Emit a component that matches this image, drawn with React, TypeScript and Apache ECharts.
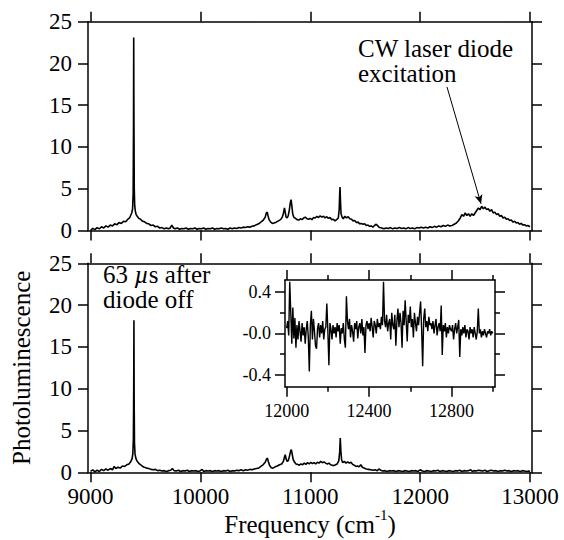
import React, { useEffect, useRef } from 'react';
import * as echarts from 'echarts';

// ---------- data ----------
const topSpectrum: [number, number][] = [
  [9000, 0.0], [9020, 0.25], [9040, 0.1], [9060, 0.35], [9080, 0.2], [9100, 0.45], [9120, 0.3], [9140, 0.55],
  [9160, 0.4], [9180, 0.65], [9200, 0.55], [9220, 0.8], [9240, 0.7], [9260, 0.95], [9280, 0.85], [9300, 1.1],
  [9320, 1.05], [9340, 1.35], [9355, 1.5], [9365, 1.8], [9375, 2.1], [9383, 2.6], [9388, 4.5], [9391, 12],
  [9393, 23.1], [9395, 14], [9398, 5], [9402, 3.0], [9408, 2.3], [9415, 1.9], [9425, 1.7], [9440, 1.45],
  [9455, 1.35], [9470, 1.15], [9490, 1.05], [9510, 0.85], [9530, 0.8], [9550, 0.6], [9570, 0.65], [9590, 0.45],
  [9610, 0.5], [9630, 0.3], [9650, 0.35], [9670, 0.2], [9690, 0.3], [9710, 0.2], [9725, 0.3], [9740, 0.65],
  [9755, 0.3], [9770, 0.2], [9790, 0.3], [9810, 0.15], [9830, 0.25], [9850, 0.2], [9870, 0.3], [9890, 0.15],
  [9910, 0.25], [9930, 0.2], [9950, 0.3], [9970, 0.15], [9990, 0.25], [10010, 0.2], [10030, 0.3], [10050, 0.15],
  [10070, 0.25], [10090, 0.2], [10110, 0.3], [10130, 0.15], [10150, 0.25], [10170, 0.2], [10190, 0.3], [10210, 0.2],
  [10230, 0.25], [10250, 0.15], [10270, 0.3], [10290, 0.2], [10310, 0.3], [10330, 0.25], [10350, 0.35], [10370, 0.3],
  [10390, 0.4], [10410, 0.35], [10430, 0.45], [10450, 0.4], [10470, 0.5], [10490, 0.55], [10510, 0.7], [10530, 0.8],
  [10550, 1.0], [10570, 1.2], [10590, 1.6], [10600, 2.1], [10608, 2.2], [10615, 1.8], [10625, 1.3], [10640, 1.0],
  [10655, 0.85], [10670, 0.9], [10690, 1.0], [10710, 1.15], [10730, 1.3], [10745, 1.6], [10755, 2.0], [10765, 2.7],
  [10772, 2.2], [10780, 1.6], [10790, 1.5], [10800, 1.8], [10810, 2.5], [10818, 3.3], [10825, 3.7], [10832, 3.0],
  [10840, 2.0], [10850, 1.6], [10865, 1.45], [10880, 1.3], [10895, 1.25], [10910, 1.4], [10925, 1.3], [10940, 1.5],
  [10955, 1.6], [10970, 1.4], [10985, 1.35], [11000, 1.45], [11015, 1.3], [11030, 1.55], [11045, 1.5], [11060, 1.7],
  [11075, 1.55], [11090, 1.75], [11105, 1.6], [11120, 1.7], [11135, 1.5], [11150, 1.65], [11165, 1.45], [11180, 1.55],
  [11195, 1.3], [11210, 1.35], [11225, 1.15], [11240, 1.3], [11255, 1.5], [11263, 2.5], [11268, 4.5], [11271, 5.2],
  [11275, 3.5], [11280, 2.0], [11290, 1.6], [11300, 1.4], [11315, 1.7], [11330, 1.5], [11345, 1.65], [11360, 1.4],
  [11375, 1.35], [11390, 1.15], [11405, 1.2], [11420, 0.95], [11435, 1.0], [11450, 0.8], [11465, 0.85], [11480, 0.75],
  [11495, 0.8], [11510, 0.6], [11525, 0.65], [11540, 0.5], [11555, 0.55], [11570, 0.4], [11585, 0.6], [11600, 0.75],
  [11615, 0.55], [11630, 0.35], [11650, 0.3], [11670, 0.2], [11690, 0.3], [11710, 0.25], [11730, 0.35], [11750, 0.2],
  [11770, 0.3], [11790, 0.25], [11810, 0.35], [11830, 0.25], [11850, 0.3], [11870, 0.2], [11890, 0.35], [11910, 0.25],
  [11930, 0.3], [11950, 0.2], [11970, 0.35], [11990, 0.3], [12010, 0.4], [12030, 0.3], [12050, 0.4], [12070, 0.3],
  [12090, 0.45], [12110, 0.35], [12130, 0.5], [12150, 0.4], [12170, 0.55], [12190, 0.45], [12210, 0.6], [12230, 0.5],
  [12250, 0.65], [12270, 0.55], [12290, 0.6], [12310, 0.75], [12330, 0.9], [12350, 1.2], [12365, 1.5], [12380, 1.9],
  [12395, 1.7], [12410, 2.1], [12425, 1.8], [12440, 2.0], [12455, 1.7], [12470, 2.0], [12485, 1.8], [12500, 2.1],
  [12515, 2.4], [12530, 2.7], [12545, 2.5], [12560, 2.9], [12575, 2.6], [12590, 2.8], [12605, 2.5], [12620, 2.6],
  [12635, 2.3], [12650, 2.5], [12665, 2.1], [12680, 2.2], [12695, 1.9], [12710, 2.0], [12725, 1.7], [12740, 1.8],
  [12755, 1.5], [12770, 1.6], [12785, 1.35], [12800, 1.4], [12815, 1.2], [12830, 1.25], [12845, 1.0], [12860, 1.1],
  [12875, 0.9], [12890, 0.95], [12905, 0.75], [12920, 0.85], [12935, 0.65], [12950, 0.7], [12965, 0.55], [12980, 0.6],
  [13000, 0.45],
];

const bottomSpectrum: [number, number][] = [
  [9000, 0.1], [9020, 0.3], [9040, 0.05], [9060, 0.25], [9080, 0.1], [9100, 0.35], [9120, 0.2], [9140, 0.4],
  [9160, 0.25], [9180, 0.45], [9200, 0.3], [9215, 0.7], [9230, 0.45], [9250, 0.6], [9270, 0.5], [9290, 0.75],
  [9310, 0.7], [9330, 0.9], [9350, 1.0], [9365, 1.25], [9378, 1.6], [9385, 2.2], [9390, 4.0], [9393, 10],
  [9395, 18.2], [9397, 9], [9400, 3.5], [9405, 2.2], [9412, 1.7], [9420, 1.4], [9432, 1.2], [9445, 1.0],
  [9460, 0.85], [9475, 0.7], [9490, 0.6], [9510, 0.5], [9530, 0.45], [9550, 0.35], [9570, 0.3], [9590, 0.35],
  [9610, 0.2], [9630, 0.25], [9650, 0.15], [9670, 0.2], [9690, 0.1], [9710, 0.2], [9730, 0.25], [9745, 0.45],
  [9760, 0.2], [9780, 0.15], [9800, 0.25], [9820, 0.1], [9840, 0.2], [9860, 0.15], [9880, 0.25], [9900, 0.1],
  [9920, 0.2], [9940, 0.15], [9960, 0.2], [9980, 0.1], [10000, 0.2], [10015, 0.35], [10030, 0.1], [10050, 0.2],
  [10070, 0.15], [10090, 0.2], [10110, 0.1], [10130, 0.2], [10150, 0.15], [10170, 0.2], [10190, 0.1], [10210, 0.2],
  [10230, 0.15], [10250, 0.25], [10270, 0.1], [10290, 0.2], [10310, 0.15], [10330, 0.25], [10350, 0.2], [10370, 0.3],
  [10390, 0.2], [10410, 0.3], [10430, 0.25], [10450, 0.35], [10470, 0.3], [10490, 0.4], [10510, 0.45], [10530, 0.5],
  [10550, 0.7], [10570, 0.9], [10590, 1.2], [10603, 1.6], [10610, 1.7], [10618, 1.3], [10630, 0.8], [10645, 0.55],
  [10660, 0.5], [10680, 0.65], [10700, 0.75], [10720, 0.9], [10740, 1.0], [10755, 1.3], [10765, 1.8], [10772, 2.1],
  [10780, 1.6], [10790, 1.3], [10800, 1.4], [10812, 2.0], [10822, 2.6], [10828, 2.7], [10835, 2.2], [10845, 1.5],
  [10858, 1.2], [10870, 1.0], [10885, 0.95], [10900, 0.85], [10915, 1.0], [10930, 0.9], [10945, 1.1], [10960, 0.95],
  [10975, 1.15], [10990, 1.0], [11005, 1.2], [11020, 1.05], [11035, 1.15], [11050, 1.0], [11065, 1.2], [11080, 1.1],
  [11095, 1.3], [11110, 1.15], [11125, 1.25], [11140, 1.1], [11155, 1.0], [11170, 1.1], [11185, 0.9], [11200, 0.85],
  [11215, 0.8], [11230, 0.9], [11245, 1.0], [11260, 1.4], [11268, 2.5], [11273, 4.1], [11278, 2.6], [11285, 1.5],
  [11295, 1.15], [11310, 1.3], [11325, 1.1], [11340, 1.25], [11355, 1.1], [11370, 1.2], [11385, 0.95], [11400, 0.85],
  [11415, 0.7], [11430, 0.75], [11445, 0.65], [11460, 0.9], [11475, 0.6], [11490, 0.5], [11510, 0.4], [11530, 0.35],
  [11550, 0.3], [11570, 0.25], [11590, 0.3], [11610, 0.2], [11625, 0.4], [11640, 0.25], [11660, 0.15], [11680, 0.2],
  [11700, 0.1], [11720, 0.2], [11740, 0.15], [11760, 0.2], [11780, 0.1], [11800, 0.2], [11820, 0.15], [11840, 0.1],
  [11860, 0.2], [11880, 0.15], [11900, 0.1], [11920, 0.2], [11940, 0.15], [11960, 0.2], [11980, 0.1], [12000, 0.3],
  [12020, 0.15], [12040, 0.1], [12060, 0.2], [12080, 0.15], [12100, 0.1], [12120, 0.2], [12140, 0.15], [12160, 0.25],
  [12180, 0.1], [12200, 0.2], [12220, 0.15], [12240, 0.1], [12260, 0.2], [12280, 0.15], [12300, 0.1], [12320, 0.2],
  [12340, 0.15], [12360, 0.25], [12380, 0.1], [12400, 0.2], [12420, 0.15], [12440, 0.2], [12460, 0.3], [12475, 0.1],
  [12490, 0.2], [12510, 0.15], [12530, 0.25], [12550, 0.2], [12570, 0.15], [12590, 0.25], [12610, 0.1], [12630, 0.2],
  [12650, 0.25], [12670, 0.15], [12690, 0.2], [12710, 0.1], [12730, 0.2], [12750, 0.15], [12770, 0.25], [12790, 0.15],
  [12810, 0.2], [12830, 0.1], [12850, 0.2], [12870, 0.15], [12890, 0.2], [12910, 0.1], [12930, 0.2], [12950, 0.15],
  [12970, 0.1], [12990, 0.15], [13000, 0.1],
];

// inset: 12000 .. 13000 cm-1, every 5 cm-1
const insetStart = 12000;
const insetStep = 5;
const insetValues: number[] = [
  0.05, 0.12, -0.02, 0.5, 0.2, -0.1, 0.25, -0.05, 0.15, -0.14,
  0.08, -0.06, 0.12, 0.02, -0.08, 0.1, -0.02, 0.06, -0.1, 0.04,
  0.12, -0.04, -0.37, 0.08, 0.22, -0.06, 0.14, 0.02, -0.12, -0.15,
  0.05, 0.1, -0.04, 0.08, 0.0, 0.12, -0.06, 0.04, 0.06, 0.29,
  0.02, -0.31, 0.1, 0.04, -0.06, 0.08, 0.0, 0.06, -0.04, 0.1,
  0.02, 0.08, -0.1, 0.05, 0.0, 0.1, -0.06, -0.14, 0.36, 0.12,
  0.04, 0.14, -0.04, 0.08, 0.02, -0.08, 0.1, 0.04, 0.12, -0.05,
  0.06, 0.1, 0.0, 0.14, -0.02, 0.06, -0.19, 0.08, 0.12, 0.04,
  0.1, 0.02, 0.15, 0.06, -0.04, 0.12, 0.08, 0.0, 0.14, 0.06,
  0.1, 0.04, 0.16, 0.08, 0.5, 0.12, 0.06, 0.18, 0.02, 0.1,
  0.14, -0.06, 0.2, 0.08, 0.04, 0.18, -0.12, 0.12, 0.24, 0.06,
  0.2, 0.1, -0.14, 0.22, 0.08, 0.32, 0.12, -0.08, 0.18, 0.1,
  0.26, 0.06, 0.14, -0.04, 0.2, 0.1, 0.02, 0.16, 0.08, 0.2,
  0.31, 0.04, -0.32, 0.14, 0.24, 0.06, 0.12, 0.02, 0.16, 0.08,
  0.1, 0.04, 0.12, 0.0, 0.08, 0.14, -0.02, 0.06, 0.1, 0.02,
  0.27, -0.21, 0.08, 0.02, 0.1, -0.04, 0.06, 0.0, 0.08, 0.04,
  0.02, 0.08, -0.06, 0.04, 0.1, 0.0, 0.06, 0.13, -0.23, 0.04,
  -0.02, 0.06, 0.0, 0.08, -0.04, 0.04, 0.02, -0.06, 0.06, 0.0,
  0.04, -0.04, 0.06, 0.0, -0.06, 0.02, 0.24, 0.0, 0.04, -0.04,
  0.02, -0.02, 0.04, 0.0, -0.04, 0.02, 0.0, 0.04, -0.02, 0.02,
  0.0,
];

const freqTicks = [9000, 10000, 11000, 12000, 13000];
const plTicks = [0, 5, 10, 15, 20, 25];
const insetXMajor = [12000, 12400, 12800];
const insetXMinor = [12200, 12600, 13000];
const insetYMajor = [-0.4, 0, 0.4];
const insetYMajorLabels = ['-0.4', '-0.0', '0.4'];
const insetYMinor = [-0.2, 0.2];
const arrowFrom: [number, number] = [12244, 17.2];
const arrowTo: [number, number] = [12554, 3.2];

// ---------- styling ----------
const FONT = 'Liberation Serif';
const BLACK = '#000';
const AXW = 1.5;

const MAIN_X = { min: 8977, max: 13018 };
const MAIN_Y = { min: 0, max: 25 };
const INSET_X = { min: 11992, max: 13011 };
const INSET_Y = { min: -0.518, max: 0.518 };

function axisBase(gridIndex: number, position: string, range: { min: number; max: number }, ticks: number[], tickLen: number, showLine: boolean) {
  return {
    type: 'value',
    gridIndex,
    position,
    min: range.min,
    max: range.max,
    splitLine: { show: false },
    axisLine: { show: showLine, onZero: false, lineStyle: { color: BLACK, width: AXW } },
    axisTick: { show: true, inside: false, length: tickLen, customValues: ticks, lineStyle: { color: BLACK, width: AXW } },
    axisLabel: { show: false, customValues: ticks },
  };
}

function measure(text: string, size: number, italic = false): number {
  const c = document.createElement('canvas').getContext('2d');
  if (!c) return text.length * size * 0.5;
  c.font = (italic ? 'italic ' : '') + size + 'px ' + FONT;
  return c.measureText(text).width;
}

function txt(text: string, x: number, y: number, size: number, italic = false) {
  return {
    type: 'text',
    x,
    y,
    silent: true,
    style: {
      text,
      fontFamily: FONT,
      fontSize: size,
      fontStyle: italic ? 'italic' : 'normal',
      fill: BLACK,
      align: 'left',
      verticalAlign: 'middle',
    },
  };
}

export default function App() {
  const ref = useRef<HTMLDivElement>(null);

  useEffect(() => {
    document.body.style.margin = '0';
    if (!ref.current) return;
    const chart = echarts.init(ref.current, null, { renderer: 'svg' });

    const insetData = insetValues.map((v, i) => [insetStart + i * insetStep, v]);

    const mainLabel = { show: true, color: BLACK, fontFamily: FONT, fontSize: 23 };
    const insetLabel = { show: true, color: BLACK, fontFamily: FONT, fontSize: 18 };

    const xAxis: any[] = [
      axisBase(0, 'bottom', MAIN_X, freqTicks, 10, true),
      axisBase(0, 'top', MAIN_X, freqTicks, 10, true),
      {
        ...axisBase(1, 'bottom', MAIN_X, freqTicks, 10, true),
        axisLabel: { ...mainLabel, margin: 13, customValues: freqTicks, formatter: (v: number) => String(v) },
      },
      axisBase(1, 'top', MAIN_X, freqTicks, 10, true),
      {
        ...axisBase(2, 'bottom', INSET_X, insetXMajor, 10, true),
        axisLabel: { ...insetLabel, margin: 15, customValues: insetXMajor, formatter: (v: number) => String(v) },
      },
      axisBase(2, 'top', INSET_X, insetXMajor, 10, true),
      axisBase(2, 'bottom', INSET_X, insetXMinor, 5, false),
      axisBase(2, 'top', INSET_X, insetXMinor, 5, false),
    ];

    const yAxis: any[] = [
      {
        ...axisBase(0, 'left', MAIN_Y, plTicks, 10, true),
        axisLabel: { ...mainLabel, margin: 16, customValues: plTicks },
      },
      axisBase(0, 'right', MAIN_Y, plTicks, 10, true),
      {
        ...axisBase(1, 'left', MAIN_Y, plTicks, 10, true),
        axisLabel: { ...mainLabel, margin: 16, customValues: plTicks },
        name: 'Photoluminescence',
        nameLocation: 'middle',
        nameGap: 54,
        nameTextStyle: { fontFamily: FONT, fontSize: 25, color: BLACK },
      },
      axisBase(1, 'right', MAIN_Y, plTicks, 10, true),
      {
        ...axisBase(2, 'left', INSET_Y, insetYMajor, 10, true),
        axisLabel: {
          ...insetLabel,
          margin: 14,
          customValues: insetYMajor,
          formatter: (v: number) => {
            const i = insetYMajor.findIndex((t) => Math.abs(t - v) < 1e-9);
            return i >= 0 ? insetYMajorLabels[i] : '';
          },
        },
      },
      axisBase(2, 'right', INSET_Y, insetYMajor, 10, true),
      axisBase(2, 'left', INSET_Y, insetYMinor, 5, false),
      axisBase(2, 'right', INSET_Y, insetYMinor, 5, false),
    ];

    const lineSeries = (data: any[], xi: number, yi: number, w: number) => ({
      type: 'line',
      xAxisIndex: xi,
      yAxisIndex: yi,
      data,
      showSymbol: false,
      symbol: 'none',
      lineStyle: { color: BLACK, width: w },
      silent: true,
      z: 3,
    });

    // x-axis title pieces (superscript done with a separate smaller text)
    const t1 = 'Frequency (cm';
    const t2 = '-1';
    const t3 = ')';
    const w1 = measure(t1, 25);
    const w2 = measure(t2, 15);
    const w3 = measure(t3, 25);
    const titleX = 310 - (w1 + w2 + w3) / 2;

    // "63 µs after" pieces (µ italic)
    const a1 = '63 ';
    const a2 = '\u00b5';
    const wa1 = measure(a1, 25);
    const wa2 = measure(a2, 25, true);

    const option: any = {
      animation: false,
      backgroundColor: '#fff',
      grid: [
        { left: 88, top: 21.7, width: 444, height: 208.8 },
        { left: 88, top: 263.3, width: 444, height: 209 },
        { left: 285, top: 280, width: 210, height: 106.7 },
      ],
      xAxis,
      yAxis,
      series: [
        {
          ...lineSeries(topSpectrum, 0, 0, 1.6),
          markLine: {
            silent: true,
            symbol: ['none', 'arrow'],
            symbolSize: [6, 9],
            label: { show: false },
            lineStyle: { color: BLACK, width: 1, type: 'solid' },
            data: [[{ coord: arrowFrom }, { coord: arrowTo }]],
          },
        },
        lineSeries(bottomSpectrum, 2, 2, 1.6),
        lineSeries(insetData, 4, 4, 1.4),
      ],
      graphic: [
        txt('CW laser diode', 358, 48.3, 25),
        txt('excitation', 358, 73.3, 25),
        txt(a1, 103, 274.9, 25),
        txt(a2, 103 + wa1, 274.9, 25, true),
        txt('s after', 103 + wa1 + wa2, 274.9, 25),
        txt('diode off', 103, 299.9, 25),
        txt(t1, titleX, 524.6, 25),
        txt(t2, titleX + w1, 515, 15),
        txt(t3, titleX + w1 + w2, 524.6, 25),
      ],
    };

    chart.setOption(option);
    return () => chart.dispose();
  }, []);

  return <div ref={ref} style={{ width: 564, height: 540 }} />;
}
